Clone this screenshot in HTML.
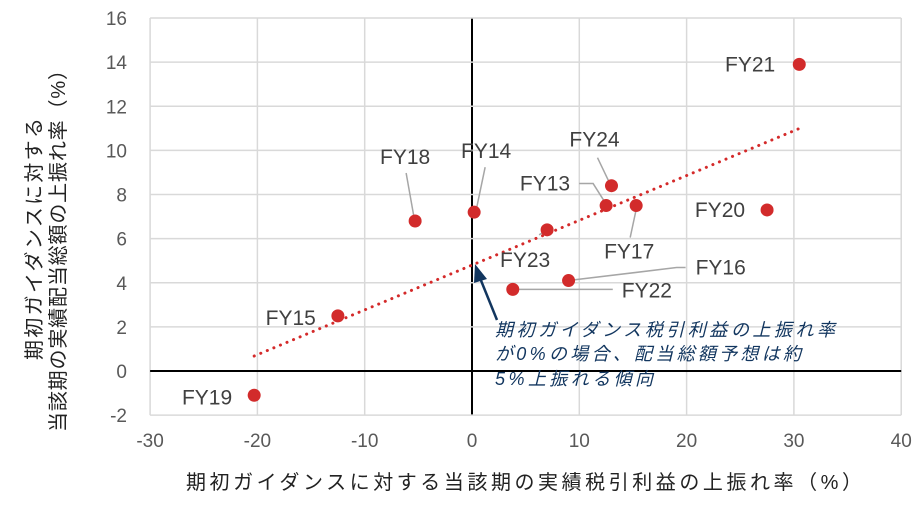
<!DOCTYPE html>
<html><head><meta charset="utf-8"><style>
body{margin:0;background:#fff;}
svg{display:block;font-family:"Liberation Sans","Noto Sans CJK JP",sans-serif;}
</style></head><body>
<svg id="c" width="923" height="509">
<g id="grid"></g><g id="marks"></g><g id="labels"></g>
<text x="186" y="489" textLength="676" lengthAdjust="spacing" font-size="20" fill="#222">期初ガイダンスに対する当該期の実績税引利益の上振れ率（%）</text>
<g font-size="20" fill="#222">
<text transform="translate(41,360) rotate(-90)" textLength="242" lengthAdjust="spacing">期初ガイダンスに対する</text>
<text transform="translate(65,432) rotate(-90)" textLength="372" lengthAdjust="spacing">当該期の実績配当総額の上振れ率（%）</text>
</g>
<g>
<line x1="497" y1="320" x2="480" y2="278" stroke="#12365f" stroke-width="2.5"/>
<polygon points="475,264 487,279 474,283" fill="#12365f"/>
<g font-size="18" font-style="italic" fill="#12365f">
<text x="495" y="336" textLength="340" lengthAdjust="spacing">期初ガイダンス税引利益の上振れ率</text>
<text x="495" y="360" textLength="306" lengthAdjust="spacing">が0%の場合、配当総額予想は約</text>
<text x="495" y="385" textLength="158" lengthAdjust="spacing">5%上振れる傾向</text>
</g></g>
</svg>
<script>
const xTicks=[-30,-20,-10,0,10,20,30,40];
const yTicks=[-2,0,2,4,6,8,10,12,14,16];
const names=["FY21","FY20","FY24","FY13","FY17","FY23","FY16","FY22","FY18","FY14","FY15","FY19"];
const xs=[30.5,27.5,13.0,12.5,15.3,7.0,9.0,3.8,-5.3,0.2,-12.5,-20.3];
const ys=[13.9,7.3,8.4,7.5,7.5,6.4,4.1,3.7,6.8,7.2,2.5,-1.1];
const trend=[0.203,4.8];
const trendRange=[-20.3,30.5];
const X=v=>472+(v)*10.73, Y=v=>371-v*22.06;
const NS="http://www.w3.org/2000/svg";
function mk(p,t,a){const e=document.createElementNS(NS,t);for(const k in a)e.setAttribute(k,a[k]);p.appendChild(e);return e;}
const g=document.getElementById('grid'),m=document.getElementById('marks'),lb=document.getElementById('labels');
xTicks.forEach(v=>{
 const l=mk(g,'line',{x1:X(v),x2:X(v),y1:Y(16),y2:Y(-2),stroke:v===0?'#000':'#d9d9d9','stroke-width':v===0?2:1.5});
 
 
 const t=mk(g,'text',{x:X(v),y:447,'text-anchor':'middle','font-size':19,fill:'#595959'});t.textContent=v;
 
 
});
yTicks.forEach(v=>{
 const l=mk(g,'line',{x1:X(-30),x2:X(40),y1:Y(v),y2:Y(v),stroke:v===0?'#000':'#d9d9d9','stroke-width':v===0?2:1.5});
 
 
 const t=mk(g,'text',{x:127,y:Y(v)+7,'text-anchor':'end','font-size':19,fill:'#595959'});t.textContent=v;
 
 
});
const tl=mk(m,'line',{x1:X(trendRange[0]),y1:Y(trend[0]*trendRange[0]+trend[1]),x2:X(trendRange[1]),y2:Y(trend[0]*trendRange[1]+trend[1]),stroke:'#d42a2a','stroke-width':3,'stroke-dasharray':'0.1 7','stroke-linecap':'round'});


const lab={
FY21:[-24,7,null,'end'],FY20:[-22,7,null,'end'],
FY24:[-17,-39,[[-14,-28],[-3,-5]],'middle'],
FY13:[-36,-15,[[-27,-22],[-13,-22],[-1,-3]],'end'],
FY17:[-7,53,[[-6,32],[0,4]],'middle'],
FY23:[-22,37,[[-1,1],[-8,5]],'middle'],
FY16:[127,-6,[[0,0],[108,-13],[117,-13]],'start'],
FY22:[109,8,[[0,0],[100,0]],'start'],
FY18:[-10,-57,[[-9,-48],[-1,-3]],'middle'],
FY14:[12,-54,[[11,-45],[2,-2]],'middle'],
FY15:[-22,9,null,'end'],FY19:[-22,9,null,'end']};
names.forEach((n,i)=>{
 const px=X(xs[i]),py=Y(ys[i]),o=lab[n];
 if(o[2]){const l=mk(m,'polyline',{points:o[2].map(p=>(px+p[0])+','+(py+p[1])).join(' '),fill:'none',stroke:'#a6a6a6','stroke-width':1.5});
  
  }
 const c=mk(m,'circle',{cx:px,cy:py,r:6.5,fill:'#d22b2b'});
 
 
 const t=mk(lb,'text',{x:px+o[0],y:py+o[1],'text-anchor':o[3],'font-size':21,fill:'#404040'});t.textContent=n;
 
 
});
</script>
</body></html>
